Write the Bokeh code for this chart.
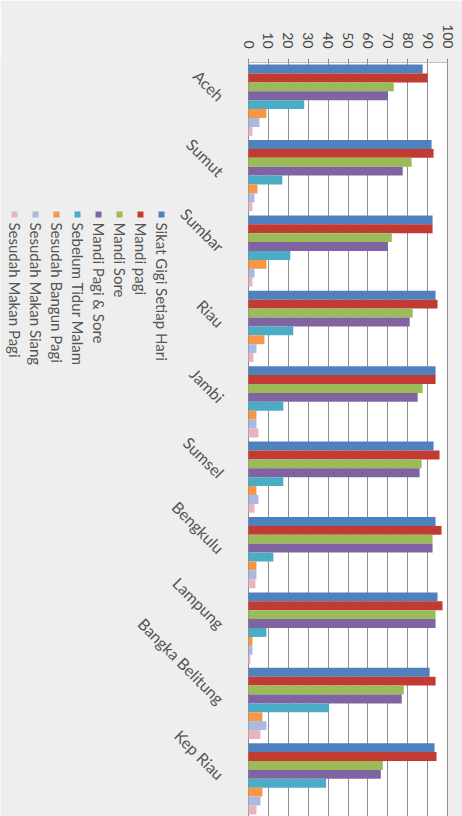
import math
from bokeh.plotting import figure
from bokeh.models import Range1d, FixedTicker
from bokeh.embed import file_html
from bokeh.resources import INLINE
from bokeh.core.properties import value

# ---------------- data ----------------
categories = ["Aceh", "Sumut", "Sumbar", "Riau", "Jambi", "Sumsel",
              "Bengkulu", "Lampung", "Bangka Belitung", "Kep Riau"]

series_names = ["Sikat Gigi Setiap Hari", "Mandi pagi", "Mandi Sore",
                "Mandi Pagi & Sore", "Sebelum Tidur Malam",
                "Sesudah Bangun Pagi", "Sesudah Makan Siang",
                "Sesudah Makan Pagi"]

sikat_gigi = [87.5, 92.0, 92.5, 94.0, 94.0, 93.0, 94.0, 95.0, 91.0, 93.5]
mandi_pagi = [90.0, 93.0, 92.5, 95.0, 94.0, 96.0, 97.0, 97.5, 94.0, 94.5]
mandi_sore = [73.0, 82.0, 72.0, 82.5, 87.5, 87.0, 92.5, 94.0, 78.0, 67.5]
mandi_pagi_sore = [70.0, 77.5, 70.0, 81.0, 85.0, 86.0, 92.5, 94.0, 77.0, 66.5]
sebelum_tidur = [28.0, 17.0, 21.0, 22.5, 17.5, 17.5, 12.5, 9.0, 40.5, 39.0]
bangun_pagi = [9.0, 4.5, 9.0, 8.0, 4.0, 4.0, 4.0, 2.0, 7.0, 7.0]
makan_siang = [5.5, 3.0, 3.0, 4.0, 4.0, 5.0, 4.0, 2.0, 9.0, 6.0]
makan_pagi = [2.0, 2.0, 2.0, 2.5, 5.0, 3.0, 3.5, 1.0, 6.0, 4.0]

series_values = [sikat_gigi, mandi_pagi, mandi_sore, mandi_pagi_sore,
                 sebelum_tidur, bangun_pagi, makan_siang, makan_pagi]

colors = ["#4F81BD", "#C23B33", "#9BBB59", "#8064A2",
          "#4BACC6", "#F79646", "#AAB9DF", "#E9B3C0"]

tick_values = [0, 10, 20, 30, 40, 50, 60, 70, 80, 90, 100]

# ---------------- layout ----------------
W, H = 462, 816
TOP = 62
X0, X100 = 248, 447
PAGE = "#eeeeee"
ppu = (X100 - X0) / 100.0
n = len(categories)
cat_px = (H - TOP) / n


def sx(px):
    return (px - X0) / ppu


def sy(py):
    return n - 0.5 - (py - TOP) / cat_px


p = figure(width=W, height=H,
           x_range=Range1d(-X0 / ppu, (W - X0) / ppu),
           y_range=Range1d(-0.5, n - 0.5),
           x_axis_location="above", y_axis_location=None,
           output_backend="svg", toolbar_location=None,
           min_border_top=TOP, min_border_left=0,
           min_border_right=0, min_border_bottom=0)
p.background_fill_color = PAGE
p.border_fill_color = PAGE
p.outline_line_color = None

# plot area
p.quad(left=[0], right=[100], bottom=[-0.5], top=[n - 0.5],
       fill_color="white", line_color="#8c8c8c", line_width=1, level="image")

# grid
p.xgrid.ticker = FixedTicker(ticks=tick_values[1:])
p.xgrid.grid_line_color = "#8f8f8f"
p.xgrid.grid_line_width = 1
p.ygrid.visible = False

# value axis (top)
ax = p.xaxis[0]
ax.ticker = FixedTicker(ticks=tick_values)
ax.major_label_orientation = -math.pi / 2
ax.axis_line_color = None
ax.major_tick_line_color = "#888888"
ax.major_tick_out = 4
ax.major_tick_in = 0
ax.minor_tick_line_color = None
ax.major_label_standoff = 10
ax.major_label_text_font = "Lato"
ax.major_label_text_font_size = "14px"
ax.major_label_text_color = "#444444"

# bars
h = 0.118
for k, (vals, col) in enumerate(zip(series_values, colors)):
    off = (3.5 - k) * h
    ys = [n - 1 - i + off for i in range(n)]
    p.hbar(y=ys, left=0, right=vals, height=h,
           fill_color=col, line_color=None)

# category labels (slanted)
p.text(x=[sx(221)] * n, y=[n - 1 - i + 0.03 for i in range(n)],
       text=categories, angle=-math.pi / 4, text_align="right",
       text_baseline="middle", text_font=value("Lato"),
       text_font_size="16px", text_color="#555555")

# legend (rotated)
leg_px = [161 - 21 * k for k in range(len(series_names))]
p.rect(x=[sx(v) for v in leg_px], y=[sy(214)] * len(series_names),
       width=6, height=6, width_units="screen", height_units="screen",
       fill_color=colors, line_color=None)
p.text(x=[sx(v) for v in leg_px], y=[sy(222)] * len(series_names),
       text=series_names, angle=-math.pi / 2, text_align="left",
       text_baseline="middle", text_font=value("Lato"),
       text_font_size="15px", text_color="#555555")

open("out.html", "w").write(file_html(p, INLINE))
